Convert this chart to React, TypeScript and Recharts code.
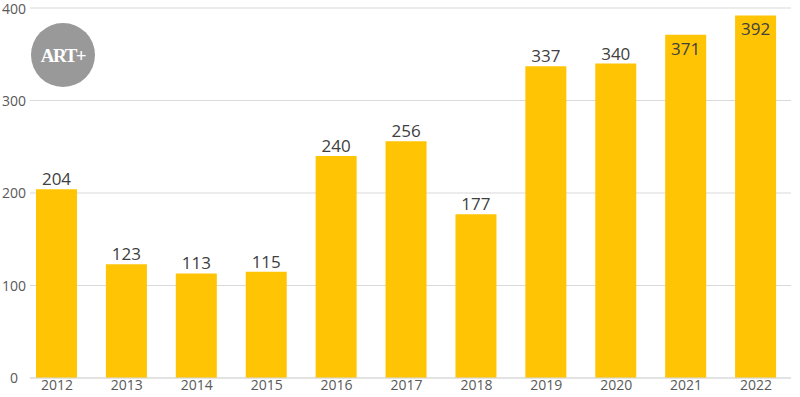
import { BarChart, Bar, XAxis, YAxis, CartesianGrid, LabelList } from "recharts";

const years = ["2012", "2013", "2014", "2015", "2016", "2017", "2018", "2019", "2020", "2021", "2022"];
const counts = [204, 123, 113, 115, 240, 256, 177, 337, 340, 371, 392];
const yTicks = [0, 100, 200, 300, 400];

const data = years.map((year, i) => ({ year, count: counts[i] }));

const FONT = "Open Sans, Liberation Sans, sans-serif";

function ValueLabel(props: any) {
  const { x, y, width, value } = props;
  // tall bars get the label inside the bar top, like the original
  const inside = value > 360;
  return (
    <text
      x={x + width / 2}
      y={inside ? y + 20 : y - 4}
      textAnchor="middle"
      fontSize={17}
      fontFamily={FONT}
      fill="#404040"
    >
      {value}
    </text>
  );
}

// y labels sit centred in the left gutter
function YTick(props: any) {
  const { y, payload } = props;
  return (
    <text x={14} y={y} dy={5} textAnchor="middle" fontSize={14} fontFamily={FONT} fill="#595959">
      {payload.value}
    </text>
  );
}

export default function App() {
  return (
    <div style={{ position: "absolute", left: 0, top: 0, width: 800, height: 397, background: "#fff" }}>
      <BarChart
        width={800}
        height={397}
        data={data}
        margin={{ top: 8, right: 9, bottom: 0, left: 0 }}
      >
        <CartesianGrid vertical={false} stroke="#d9d9d9" />
        <XAxis
          dataKey="year"
          height={19}
          padding={{ left: -8, right: 0 }}
          tick={{ fontSize: 14, fill: "#595959", fontFamily: FONT }}
          tickLine={false}
          axisLine={{ stroke: "#d9d9d9" }}
          tickSize={0}
          tickMargin={2}
          interval={0}
        />
        <YAxis
          domain={[0, 400]}
          ticks={yTicks}
          width={30}
          tick={YTick}
          axisLine={false}
          tickLine={false}
        />
        <Bar dataKey="count" fill="#FFC404" barSize={41} isAnimationActive={false}>
          <LabelList dataKey="count" content={ValueLabel} />
        </Bar>
      </BarChart>
      <svg width={66} height={66} style={{ position: "absolute", left: 30, top: 22 }}>
        <circle cx={33} cy={33} r={32} fill="#999999" />
        <text
          x={33}
          y={40}
          textAnchor="middle"
          fontSize={19}
          fontWeight="bold"
          fontFamily="Liberation Serif, DejaVu Serif, serif"
          fill="#fff"
          letterSpacing={-1.5}
        >
          ART+
        </text>
      </svg>
    </div>
  );
}
